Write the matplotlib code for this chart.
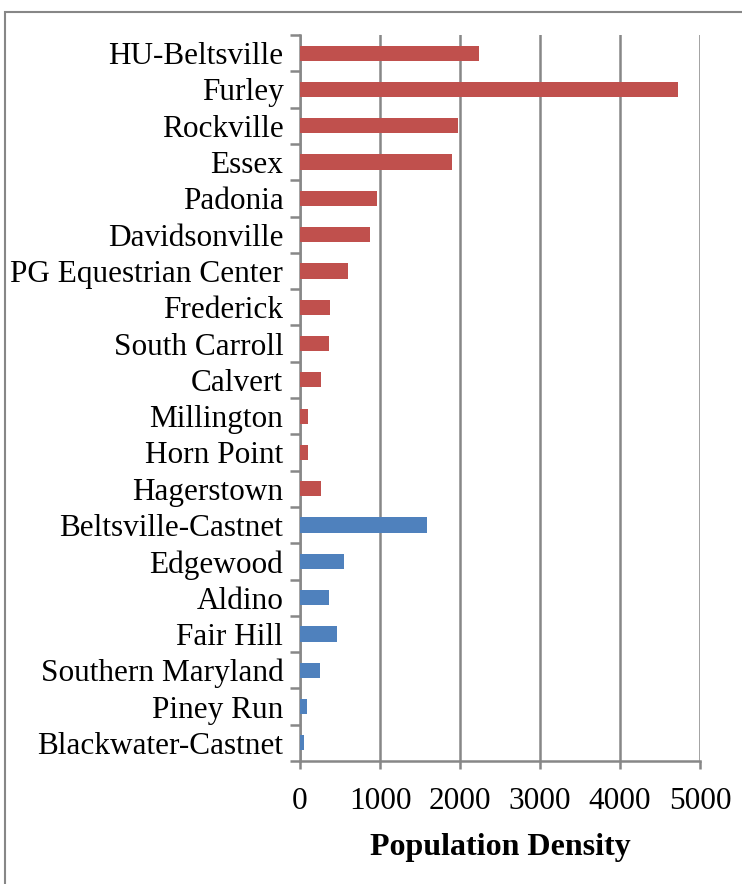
import matplotlib
matplotlib.use("Agg")
import matplotlib.pyplot as plt
from matplotlib.patches import Rectangle

# Monitoring sites, listed top to bottom
red_sites = ["HU-Beltsville", "Furley", "Rockville", "Essex", "Padonia",
             "Davidsonville", "PG Equestrian Center", "Frederick",
             "South Carroll", "Calvert", "Millington", "Horn Point", "Hagerstown"]
red_density = [2240, 4730, 1980, 1900, 960, 880, 600, 380, 360, 260, 100, 100, 260]

blue_sites = ["Beltsville-Castnet", "Edgewood", "Aldino", "Fair Hill",
              "Southern Maryland", "Piney Run", "Blackwater-Castnet"]
blue_density = [1590, 550, 360, 460, 250, 87, 50]

x_ticks = [0, 1000, 2000, 3000, 4000, 5000]
x_label = "Population Density"

RED = "#C0504D"
BLUE = "#4F81BD"
GREY = "#878787"

plt.rcParams["font.family"] = ["Liberation Serif", "DejaVu Serif"]

fig = plt.figure(figsize=(7.42, 8.84), dpi=100)
ax = fig.add_axes([300 / 742, 1 - 761 / 884, 400 / 742, (761 - 35) / 884])

sites = red_sites + blue_sites
values = red_density + blue_density
colors = [RED] * len(red_sites) + [BLUE] * len(blue_sites)
n = len(sites)
ypos = [n - 1 - i for i in range(n)]

ax.set_axisbelow(True)
ax.barh(ypos, values, height=0.42, color=colors, zorder=3)

ax.set_xlim(0, 5000)
ax.set_ylim(-0.5, n - 0.5)
ax.set_xticks(x_ticks)
ax.set_xticklabels([str(t) for t in x_ticks], fontsize=22.5)

# category labels at bar centres, tick marks at category boundaries
ax.set_yticks(ypos)
ax.set_yticklabels(sites, fontsize=22.5)
ax.tick_params(axis="y", which="major", length=0, pad=12)
ax.set_yticks([k - 0.5 for k in range(n + 1)], minor=True)
ax.tick_params(axis="y", which="minor", length=7, width=1.8, color=GREY)
ax.tick_params(axis="x", which="major", length=6, width=1.8, color=GREY, pad=13)

ax.grid(axis="x", color=GREY, linewidth=1.8, zorder=0)

for side in ["top", "right"]:
    ax.spines[side].set_visible(False)
for side in ["left", "bottom"]:
    ax.spines[side].set_color(GREY)
    ax.spines[side].set_linewidth(1.8)

ax.set_xlabel(x_label, fontsize=23, fontweight="bold", labelpad=12)

# chart-area frame
fig.patches.append(Rectangle((5 / 742, -0.1), 1.2, (884 - 12) / 884 + 0.1,
                             transform=fig.transFigure, fill=False,
                             edgecolor=GREY, linewidth=1.5))

fig.savefig("out.png", dpi=100)
